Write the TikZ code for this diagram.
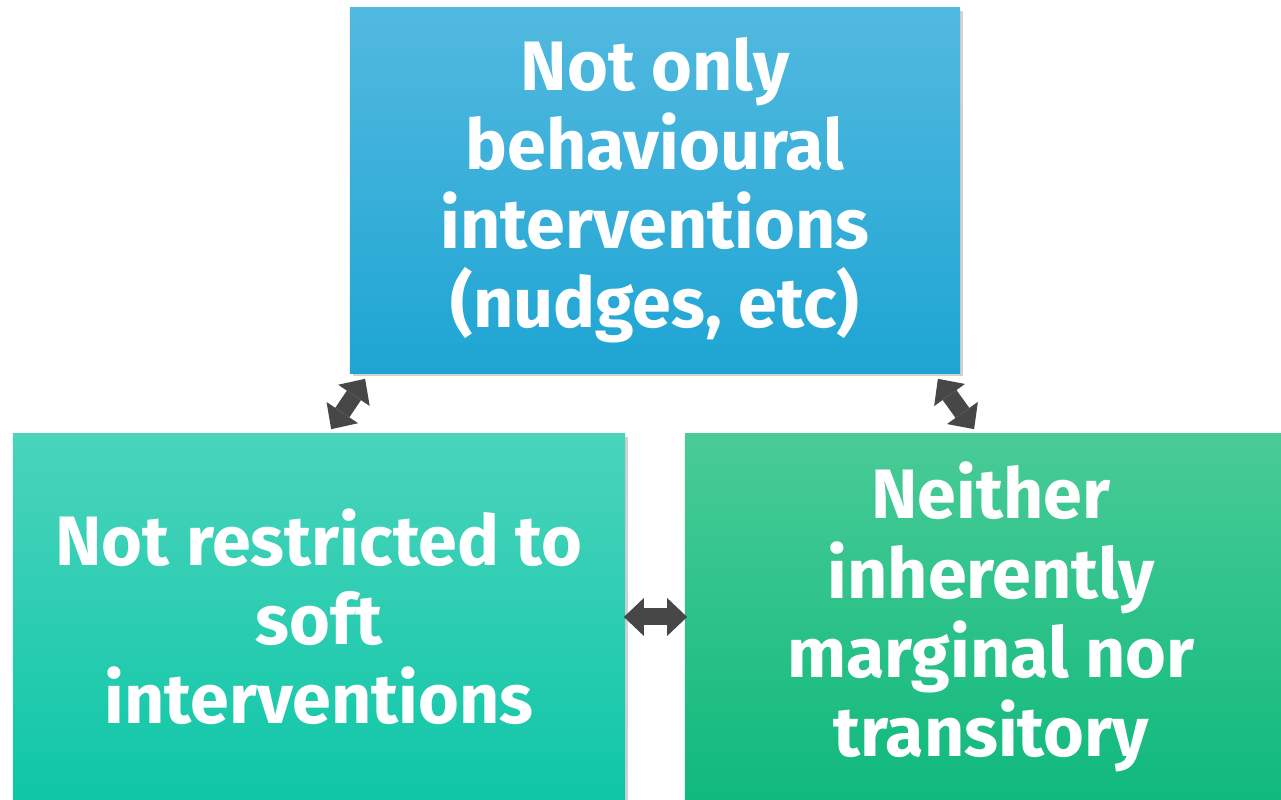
\documentclass[tikz,border=0pt]{standalone}
\usepackage{fontspec}
\setsansfont{Fira Sans}
\usetikzlibrary{arrows.meta,shadows}

\definecolor{blueTop}{HTML}{52B9DF}
\definecolor{blueBot}{HTML}{1EA5D3}
\definecolor{tealTop}{HTML}{4AD4BC}
\definecolor{tealBot}{HTML}{0FC6A7}
\definecolor{greenTop}{HTML}{49CB97}
\definecolor{greenBot}{HTML}{10B97C}
\definecolor{arrowgray}{HTML}{474747}

\begin{document}
\begin{tikzpicture}[x=0.01cm,y=0.01cm,
    box/.style={draw=none,minimum height=3.66cm,text=white,align=center,
        font=\sffamily\bfseries\fontsize{19.9}{22.5}\selectfont,
        drop shadow={shadow xshift=0.03cm,shadow yshift=-0.03cm,opacity=0.18,fill=black}},
    blocktip/.tip={Triangle[length=0.2cm,width=0.38cm,line width=0pt]},
    link/.style={blocktip-blocktip,line width=0.17cm,color=arrowgray}]
    \useasboundingbox (0,0) rectangle (1281,800);

    \node[box,minimum width=6.10cm,minimum height=3.65cm,top color=blueTop,bottom color=blueBot] (1) at (655,609.5)
        {Not only\\behavioural\\interventions\\(nudges, etc)};
    \node[box,minimum width=6.12cm,top color=tealTop,bottom color=tealBot] (2) at (319,183)
        {Not restricted to\\soft\\interventions};
    \node[box,minimum width=6.12cm,top color=greenTop,bottom color=greenBot] (3) at (991,183)
        {Neither\\inherently\\marginal nor\\transitory};

    \coordinate (a) at ([shift={(16,-5)}]1.south west);
    \coordinate (b) at ([shift={(319,4)}]2.north west);
    \coordinate (c) at ([shift={(-23,-5)}]1.south east);
    \coordinate (d) at ([shift={(290,4)}]3.north west);
    \coordinate (e) at ([xshift=-0.02cm]2.east);
    \coordinate (f) at ([xshift=0.03cm]3.west);

    \path[link]
        (a) edge (b)
        (c) edge (d)
        (e) edge (f)
        ;
\end{tikzpicture}
\end{document}
